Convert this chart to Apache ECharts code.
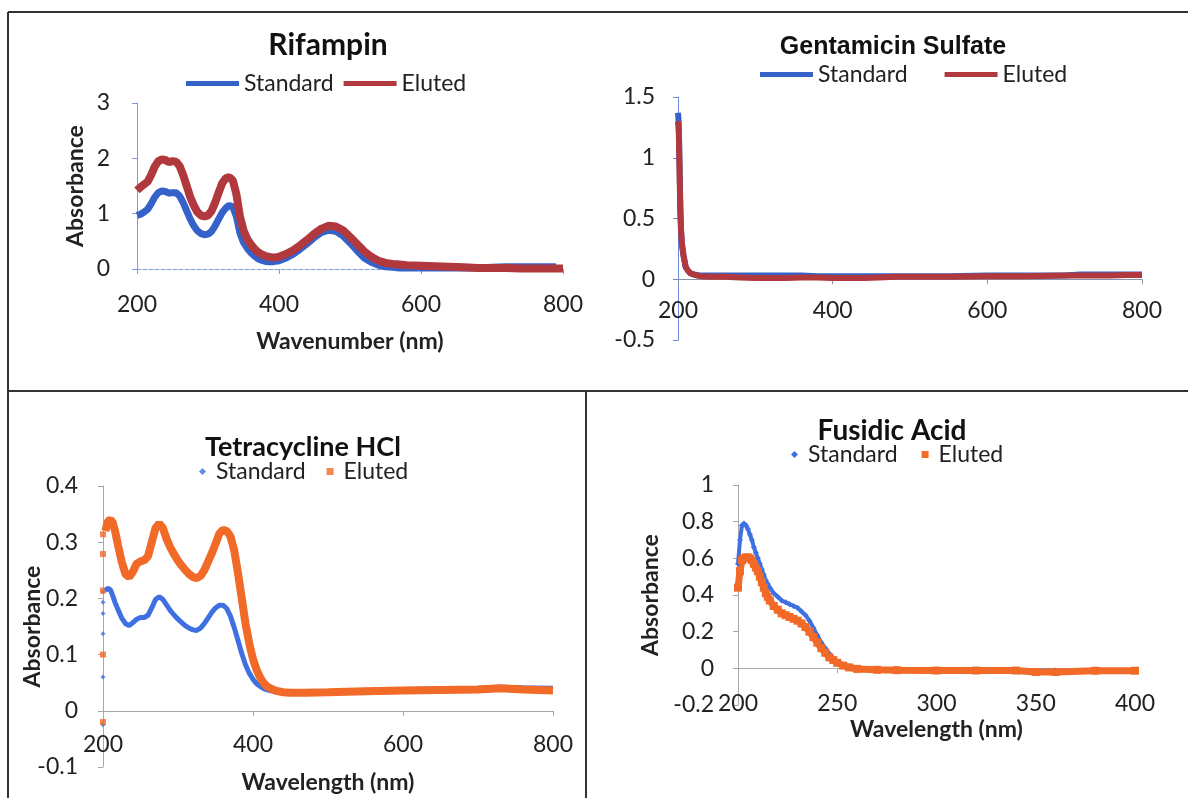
<!DOCTYPE html>
<html><head><meta charset="utf-8">
<script src="https://cdn.jsdelivr.net/npm/echarts@6/dist/echarts.min.js"></script>
<style>html,body{margin:0;padding:0;background:#fff}#c{width:1188px;height:798px}</style>
</head><body><div id="c"></div>
<script>
// ---------- Rifampin ----------
const rifStdWl = [200,205,210,215,220,225,230,235,240,245,250,255,260,265,270,275,280,285,290,295,300,305,310,315,320,325,330,335,340,345,350,355,360,365,370,375,380,385,390,395,400,410,420,430,440,450,460,470,480,490,500,510,520,530,540,550,560,570,580,600,620,640,660,680,700,720,740,760,790];
const rifStd   = [0.97,0.99,1.03,1.08,1.18,1.30,1.38,1.41,1.40,1.37,1.38,1.38,1.32,1.20,1.05,0.90,0.78,0.69,0.64,0.62,0.63,0.68,0.78,0.90,1.02,1.10,1.15,1.12,0.95,0.65,0.48,0.38,0.30,0.24,0.19,0.16,0.14,0.13,0.13,0.14,0.15,0.20,0.27,0.36,0.46,0.57,0.66,0.70,0.68,0.60,0.47,0.33,0.20,0.12,0.07,0.04,0.03,0.02,0.02,0.02,0.02,0.02,0.02,0.02,0.03,0.04,0.04,0.04,0.04];
const rifEluWl = [200,205,210,215,220,225,230,235,240,245,250,255,260,265,270,275,280,285,290,295,300,305,310,315,320,325,330,335,340,345,350,355,360,365,370,375,380,385,390,395,400,410,420,430,440,450,460,470,480,490,500,510,520,530,540,550,560,570,580,600,620,640,660,680,700,720,740,760,780,800];
const rifElu   = [1.42,1.48,1.53,1.58,1.70,1.85,1.95,1.98,1.97,1.93,1.95,1.94,1.86,1.70,1.50,1.30,1.15,1.03,0.97,0.95,0.97,1.05,1.20,1.38,1.55,1.64,1.66,1.60,1.35,0.95,0.70,0.55,0.45,0.37,0.31,0.27,0.24,0.22,0.21,0.21,0.22,0.27,0.34,0.43,0.53,0.64,0.73,0.78,0.77,0.70,0.58,0.45,0.32,0.22,0.15,0.11,0.09,0.08,0.07,0.06,0.05,0.04,0.03,0.02,0.02,0.02,0.01,0.01,0.01,0.01];

// ---------- Gentamicin Sulfate ----------
const genWl  = [200,201,202,203,204,205,207,210,213,216,220,225,230,240,260,280,300,320,340,360,380,400,420,440,460,480,500,550,600,650,700,720,740,760,780,800];
const genStd = [1.37,1.28,0.95,0.60,0.40,0.29,0.20,0.10,0.07,0.05,0.04,0.035,0.03,0.03,0.03,0.03,0.03,0.03,0.03,0.03,0.025,0.025,0.025,0.025,0.025,0.025,0.025,0.025,0.03,0.03,0.03,0.04,0.04,0.04,0.04,0.04];
const genElu = [1.30,1.22,0.90,0.55,0.40,0.30,0.20,0.10,0.07,0.05,0.04,0.03,0.025,0.02,0.02,0.015,0.01,0.01,0.01,0.015,0.015,0.01,0.01,0.01,0.015,0.02,0.02,0.02,0.025,0.025,0.03,0.03,0.03,0.03,0.035,0.035];

// ---------- Tetracycline HCl ----------
const tetStartStdWl = [200,200,200,200,200,200];
const tetStartStd   = [-0.025,0.06,0.137,0.173,0.193,0.212];
const tetStartEluWl = [200,200,200,200,200];
const tetStartElu   = [-0.02,0.10,0.214,0.279,0.314];
const tetWl  = [203,207,210,213,216,220,225,230,235,240,245,250,255,260,265,270,275,280,285,290,295,300,305,310,315,320,325,330,335,340,345,350,355,360,365,370,375,380,385,390,395,400,405,410,415,420,430,440,450,470,500,550,600,650,700,730,760,800];
const tetStd = [0.214,0.218,0.215,0.205,0.193,0.180,0.165,0.155,0.152,0.157,0.163,0.166,0.166,0.170,0.183,0.198,0.203,0.198,0.188,0.178,0.170,0.163,0.157,0.151,0.147,0.144,0.143,0.147,0.155,0.165,0.175,0.183,0.188,0.188,0.182,0.168,0.148,0.125,0.102,0.082,0.067,0.056,0.048,0.043,0.039,0.037,0.034,0.033,0.032,0.032,0.034,0.036,0.038,0.039,0.040,0.042,0.041,0.040];
const tetElu = [0.320,0.338,0.340,0.335,0.320,0.295,0.265,0.243,0.238,0.248,0.262,0.266,0.268,0.275,0.300,0.325,0.333,0.325,0.305,0.290,0.278,0.267,0.258,0.250,0.243,0.238,0.236,0.240,0.250,0.265,0.280,0.297,0.315,0.322,0.320,0.310,0.285,0.245,0.200,0.155,0.120,0.092,0.072,0.058,0.048,0.042,0.036,0.033,0.032,0.032,0.033,0.035,0.036,0.037,0.038,0.040,0.038,0.036];

// ---------- Fusidic Acid ----------
const fusStdWl = [200,201,202,203,204,205,206,207,208,209,210,211,212,213,214,215,216,218,220,222,224,226,228,230,232,234,236,238,240,242,244,246,248,250,253,256,260,270,280,300,320,340,360,380,400];
const fusStd   = [0.57,0.70,0.78,0.79,0.78,0.76,0.73,0.70,0.66,0.63,0.60,0.57,0.54,0.51,0.48,0.46,0.44,0.41,0.39,0.37,0.36,0.35,0.34,0.33,0.31,0.29,0.26,0.22,0.18,0.14,0.11,0.08,0.055,0.035,0.02,0.01,0.0,-0.005,-0.008,-0.01,-0.01,-0.01,-0.012,-0.01,-0.01];
const fusEluWl = [200,201,202,203,204,205,206,207,208,209,210,211,212,213,214,215,216,218,220,222,224,226,228,230,232,234,236,238,240,242,244,246,248,250,253,256,260,270,280,300,320,340,350,360,380,400];
const fusElu   = [0.44,0.53,0.59,0.60,0.605,0.605,0.60,0.59,0.57,0.55,0.53,0.50,0.47,0.44,0.41,0.39,0.37,0.34,0.32,0.30,0.29,0.28,0.27,0.26,0.245,0.225,0.20,0.17,0.14,0.11,0.085,0.06,0.045,0.03,0.015,0.005,-0.003,-0.008,-0.01,-0.012,-0.012,-0.012,-0.02,-0.02,-0.013,-0.013];

// ---------- Tick settings ----------
const xTicksWide = [200, 800, 200];   // min, max, interval
const xTicksFus  = [200, 400, 50];
const yTicksRif  = [0, 3, 1];
const yTicksGen  = [-0.5, 1.5, 0.5];
const yTicksTet  = [-0.1, 0.4, 0.1];
const yTicksFus  = [-0.2, 1, 0.2];

function pairs(xs, ys){ return xs.map((x,i)=>[x, ys[i]]); }

const BLUE1='#3562c8', RED1='#b1383d', BLUE2='#3e70e2', ORANGE='#f26a27';
const FONT='Lato', TXT='#222';

const grids = [
  {left:137, top:103, width:426, height:166},
  {left:678, top:97,  width:464, height:243},
  {left:103, top:486, width:450, height:281},
  {left:738, top:485, width:397, height:220}
];
// distance (px) from the bottom of a grid up to the value 0 of its y axis
function zeroLift(gi, yt){ return grids[gi].height * (0 - yt[0]) / (yt[1] - yt[0]); }

function xAx(gi, t, yt, lineColor, dashed, margin, name, nameGap){
  return {type:'value', gridIndex:gi, min:t[0], max:t[1], interval:t[2],
    offset: -zeroLift(gi, yt),
    axisLine:{show:true, onZero:false, lineStyle:{color:lineColor, width:1, type: dashed?'dashed':'solid'}},
    axisTick:{show:true, length:5, lineStyle:{color:lineColor}},
    splitLine:{show:false},
    axisLabel:{fontFamily:FONT, fontSize:23, color:TXT, margin:margin, showMinLabel:true, showMaxLabel:true},
    name:name||'', nameLocation:'middle', nameGap:nameGap||0, nameMoveOverlap:false,
    nameTextStyle:{fontFamily:FONT, fontWeight:'bold', fontSize:23, color:TXT}};
}
function yAx(gi, t, lineColor, margin, name, nameGap){
  return {type:'value', gridIndex:gi, min:t[0], max:t[1], interval:t[2],
    axisLine:{show:true, onZero:false, lineStyle:{color:lineColor, width:1}},
    axisTick:{show:true, length:5, lineStyle:{color:lineColor}},
    splitLine:{show:false},
    axisLabel:{fontFamily:FONT, fontSize:23, color:TXT, margin:margin, showMinLabel:true, showMaxLabel:true},
    name:name||'', nameLocation:'middle', nameGap:nameGap||0, nameRotate:90, nameMoveOverlap:false,
    nameTextStyle:{fontFamily:FONT, fontWeight:'bold', fontSize:23, color:TXT}};
}

const fmt = n => n.split('|')[1];
const legendText = {fontFamily:FONT, fontSize:23, color:TXT};
const legendTextPad = {fontFamily:FONT, fontSize:23, color:TXT, padding:[0,0,0,5]};

const option = {
  animation:false,
  backgroundColor:'#fff',
  grid: grids,
  xAxis:[
    xAx(0, xTicksWide, yTicksRif, '#7f9ad8', true, 24, 'Wavenumber (nm)', 61),
    xAx(1, xTicksWide, yTicksGen, '#8c93a8', false, 20, '', 0),
    xAx(2, xTicksWide, yTicksTet, '#a8a8a8', false, 22, 'Wavelength (nm)', 60),
    xAx(3, xTicksFus,  yTicksFus, '#a8a8a8', false, 24, 'Wavelength (nm)', 50)
  ],
  yAxis:[
    yAx(0, yTicksRif, '#7f9ad8', 27, 'Absorbance', 50),
    yAx(1, yTicksGen, '#6a8ad8', 23),
    yAx(2, yTicksTet, '#a8a8a8', 25, 'Absorbance', 59),
    yAx(3, yTicksFus, '#a8a8a8', 24, 'Absorbance', 76)
  ],
  legend:[
    {left:181, top:67, itemWidth:53, itemHeight:5, itemGap:10, selectedMode:false, formatter:fmt, textStyle:legendText,
     data:[{name:'rif|Standard', icon:'rect'},{name:'rif|Eluted', icon:'rect'}]},
    {left:755, top:58, itemWidth:53, itemHeight:5, itemGap:37, selectedMode:false, formatter:fmt, textStyle:legendText,
     data:[{name:'gen|Standard', icon:'rect'},{name:'gen|Eluted', icon:'rect'}]},
    {left:194, top:455, itemWidth:7, itemHeight:7, itemGap:21, selectedMode:false, formatter:fmt, textStyle:legendTextPad,
     lineStyle:{width:0, opacity:0},
     data:[{name:'tet|Standard', icon:'diamond'},{name:'tet|Eluted', icon:'rect'}]},
    {left:786, top:438, itemWidth:7, itemHeight:7, itemGap:24, selectedMode:false, formatter:fmt, textStyle:legendTextPad,
     lineStyle:{width:0, opacity:0},
     data:[{name:'fus|Standard', icon:'diamond'},{name:'fus|Eluted', icon:'rect'}]}
  ],
  graphic:[
    {type:'line', shape:{x1:8,y1:12,x2:1188,y2:12}, style:{stroke:'#333', lineWidth:2}},
    {type:'line', shape:{x1:8,y1:12,x2:8,y2:798}, style:{stroke:'#333', lineWidth:2}},
    {type:'line', shape:{x1:8,y1:391,x2:1188,y2:391}, style:{stroke:'#333', lineWidth:2}},
    {type:'line', shape:{x1:586,y1:391,x2:586,y2:798}, style:{stroke:'#333', lineWidth:2}},
    {type:'text', style:{text:'Rifampin', x:328, y:45, align:'center', verticalAlign:'middle', font:'bold 30px Lato', fill:'#111'}},
    {type:'text', style:{text:'Gentamicin Sulfate', x:893, y:47, align:'center', verticalAlign:'middle', font:'bold 25px "Liberation Sans", Arial', fill:'#111'}},
    {type:'text', style:{text:'Tetracycline HCl', x:303, y:447, align:'center', verticalAlign:'middle', font:'bold 27px Lato', fill:'#111'}},
    {type:'text', style:{text:'Fusidic Acid', x:892, y:431, align:'center', verticalAlign:'middle', font:'bold 28px Lato', fill:'#111'}}
  ],
  series:[
    {name:'rif|Standard', type:'line', xAxisIndex:0, yAxisIndex:0, symbol:'none', color:BLUE1, lineStyle:{width:7, color:BLUE1}, data:pairs(rifStdWl, rifStd)},
    {name:'rif|Eluted', type:'line', xAxisIndex:0, yAxisIndex:0, symbol:'none', color:RED1, lineStyle:{width:8, color:RED1}, data:pairs(rifEluWl, rifElu)},
    {name:'gen|Standard', type:'line', xAxisIndex:1, yAxisIndex:1, symbol:'none', color:BLUE1, lineStyle:{width:6, color:BLUE1}, data:pairs(genWl, genStd)},
    {name:'gen|Eluted', type:'line', xAxisIndex:1, yAxisIndex:1, symbol:'none', color:RED1, lineStyle:{width:6, color:RED1}, data:pairs(genWl, genElu)},
    {name:'tet|Standard', type:'scatter', xAxisIndex:2, yAxisIndex:2, symbol:'diamond', symbolSize:5, color:BLUE2, data:pairs(tetStartStdWl, tetStartStd)},
    {name:'tet|Standard', type:'line', xAxisIndex:2, yAxisIndex:2, symbol:'none', color:BLUE2, lineStyle:{width:5, color:BLUE2}, data:pairs(tetWl, tetStd)},
    {name:'tet|Eluted', type:'scatter', xAxisIndex:2, yAxisIndex:2, symbol:'rect', symbolSize:6, color:ORANGE, data:pairs(tetStartEluWl, tetStartElu)},
    {name:'tet|Eluted', type:'line', xAxisIndex:2, yAxisIndex:2, symbol:'none', color:ORANGE, lineStyle:{width:8, color:ORANGE}, data:pairs(tetWl, tetElu)},
    {name:'fus|Standard', type:'line', xAxisIndex:3, yAxisIndex:3, symbol:'diamond', symbolSize:6, showSymbol:true, color:BLUE2, itemStyle:{color:BLUE2}, lineStyle:{width:4, color:BLUE2}, data:pairs(fusStdWl, fusStd)},
    {name:'fus|Eluted', type:'line', xAxisIndex:3, yAxisIndex:3, symbol:'rect', symbolSize:8, showSymbol:true, color:ORANGE, itemStyle:{color:ORANGE}, lineStyle:{width:7, color:ORANGE}, data:pairs(fusEluWl, fusElu)}
  ]
};
const chart = echarts.init(document.getElementById('c'), null, {renderer:'canvas'});
chart.setOption(option);
</script></body></html>
